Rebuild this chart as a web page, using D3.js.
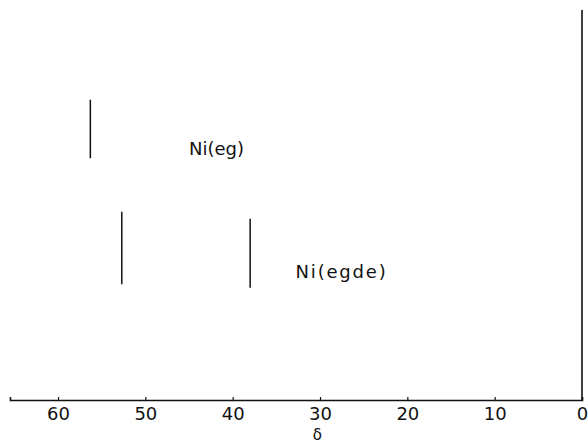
<!DOCTYPE html>
<html>
<head>
<meta charset="utf-8">
<script src="https://cdn.jsdelivr.net/npm/d3@7"></script>
<style>
  body { margin: 0; background: #fff; }
  svg { display: block; }
  text { font-family: "DejaVu Sans", sans-serif; fill: #111; }
</style>
</head>
<body>
<svg id="chart" width="588" height="444"></svg>
<script>
// chemical shift tick labels
var tickValues = [60, 50, 40, 30, 20, 10, 0];

// Ni(eg) spectrum: one line
var egShift = [56.3];
var egTop = [77];
var egBottom = [62];

// Ni(egde) spectrum: two lines
var egdeShift = [52.7, 38.0];
var egdeTop = [48.3, 46.5];
var egdeBottom = [29.7, 28.8];

// labels placed in data units
var labelNames = ["Ni(eg)", "Ni(egde)"];
var labelShift = [45.0, 32.8];
var labelLevel = [64.5, 33.0];

var width = 588, height = 444,
    margin = { top: 10, right: 6, bottom: 44, left: 10 };

var svg = d3.select("#chart");

var x = d3.scaleLinear().domain([65.5, 0]).range([margin.left, width - margin.right]);
var y = d3.scaleLinear().domain([0, 100]).range([height - margin.bottom, margin.top]);

var g = svg.append("g");

// baseline with short upward ticks
var axis = d3.axisBottom(x).tickValues(tickValues).tickSize(-3).tickPadding(7)
    .tickFormat(d3.format("d"));
var ax = g.append("g")
    .attr("transform", "translate(0," + y(0) + ")")
    .call(axis);
ax.select(".domain").attr("stroke", "#111").attr("stroke-width", 1.6);
ax.selectAll(".tick line").attr("stroke", "#111").attr("stroke-width", 1.2);
ax.selectAll(".tick text").style("font-size", "18px").attr("fill", "#111")
    .style("font-family", "'DejaVu Sans', sans-serif");

// zero reference line
g.append("line")
    .attr("x1", x(0)).attr("x2", x(0))
    .attr("y1", y(0)).attr("y2", y(100))
    .attr("stroke", "#111").attr("stroke-width", 1.6);

// spectral lines
var peaks = [];
egShift.forEach(function (d, i) { peaks.push({ s: d, t: egTop[i], b: egBottom[i] }); });
egdeShift.forEach(function (d, i) { peaks.push({ s: d, t: egdeTop[i], b: egdeBottom[i] }); });

g.selectAll(".peak").data(peaks).enter().append("line")
    .attr("class", "peak")
    .attr("x1", function (d) { return x(d.s); })
    .attr("x2", function (d) { return x(d.s); })
    .attr("y1", function (d) { return y(d.t); })
    .attr("y2", function (d) { return y(d.b); })
    .attr("stroke", "#111").attr("stroke-width", 1.5);

// compound labels
var spacing = ["0px", "1.8px"];
g.selectAll(".lbl").data(labelNames).enter().append("text")
    .attr("class", "lbl")
    .attr("x", function (d, i) { return x(labelShift[i]); })
    .attr("y", function (d, i) { return y(labelLevel[i]); })
    .attr("dy", "0.35em")
    .style("font-size", "18px")
    .style("letter-spacing", function (d, i) { return spacing[i]; })
    .text(function (d) { return d; });

// axis title
g.append("text")
    .attr("x", x(30.3)).attr("y", 440)
    .attr("text-anchor", "middle")
    .style("font-size", "15px")
    .text("δ");
</script>
</body>
</html>
